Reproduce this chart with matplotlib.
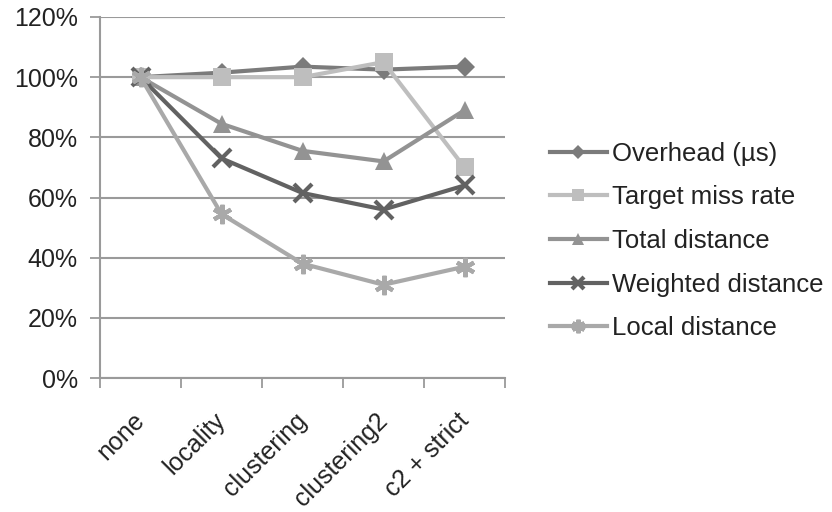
import matplotlib.pyplot as plt
from matplotlib.ticker import PercentFormatter
from matplotlib.transforms import ScaledTranslation

plt.rcParams['font.family'] = ['Liberation Sans', 'DejaVu Sans']

# --- data (relative to the "none" baseline, in %) ---
categories = ["none", "locality", "clustering", "clustering2", "c2 + strict"]

overhead = [100, 101.5, 103.5, 102.5, 103.5]
target_miss = [100, 100, 100, 105, 70]
total_dist = [100, 84.5, 75.5, 72, 89]
weighted_dist = [100, 73, 61.5, 56, 64]
local_dist = [100, 54.5, 38, 31, 37]

series_names = ["Overhead (µs)", "Target miss rate", "Total distance",
                "Weighted distance", "Local distance"]

# --- styling per series ---
colors = ["#7b7b7b", "#bebebe", "#939393", "#626262", "#a9a9a9"]
markers = ["D", "s", "^", "x", (6, 2, 0)]
msizes = [10, 13, 13, 13, 14]

fig = plt.figure(figsize=(8.32, 5.12), dpi=100)
ax = fig.add_axes([100 / 832, 1 - 378 / 512, 405 / 832, (378 - 17) / 512])

x = range(len(categories))
all_series = [overhead, target_miss, total_dist, weighted_dist, local_dist]
for vals, name, c, m, ms in zip(all_series, series_names, colors, markers, msizes):
    ax.plot(x, vals, color=c, lw=3, marker=m, markersize=ms,
            markeredgewidth=3 if m in ("x", (6, 2, 0)) else 0,
            markeredgecolor=c, markerfacecolor=c, label=name, zorder=3)

ax.set_ylim(0, 120)
ax.set_yticks(range(0, 121, 20))
ax.yaxis.set_major_formatter(PercentFormatter(decimals=0))
ax.set_xlim(-0.5, len(categories) - 0.5)

# category boundaries get the tick marks, category centres get the labels
ax.set_xticks([i - 0.5 for i in range(len(categories) + 1)])
ax.set_xticklabels([])
ax.set_xticks(list(x), minor=True)
ax.set_xticklabels(categories, minor=True, rotation=45, ha="right",
                   rotation_mode="anchor", fontsize=18, color="#222222")
ax.tick_params(axis="x", which="minor", length=0, pad=22)
ax.tick_params(axis="x", which="major", length=7, width=1.3, color="#9a9a9a")
ax.tick_params(axis="y", length=7, width=1.3, color="#9a9a9a",
               labelsize=18, labelcolor="#222222", pad=9)

# nudge rotated labels left so their ends sit under the category centres
shift = ScaledTranslation(-0.08, 0, fig.dpi_scale_trans)
for lbl in ax.get_xticklabels(minor=True):
    lbl.set_transform(lbl.get_transform() + shift)

ax.grid(axis="y", color="#9a9a9a", lw=1.5)
ax.set_axisbelow(True)
for s in ["top", "right"]:
    ax.spines[s].set_visible(False)
for s in ["left", "bottom"]:
    ax.spines[s].set_color("#9a9a9a")
    ax.spines[s].set_linewidth(1.5)

fig.legend(loc="center left", bbox_to_anchor=(550 / 832, 1 - 241 / 512),
           frameon=False, fontsize=18.5, handlelength=2.2, handletextpad=0.2,
           labelspacing=0.76, borderpad=0, borderaxespad=0, markerscale=0.7,
           labelcolor="#222222")

fig.savefig("out.png", dpi=100)
